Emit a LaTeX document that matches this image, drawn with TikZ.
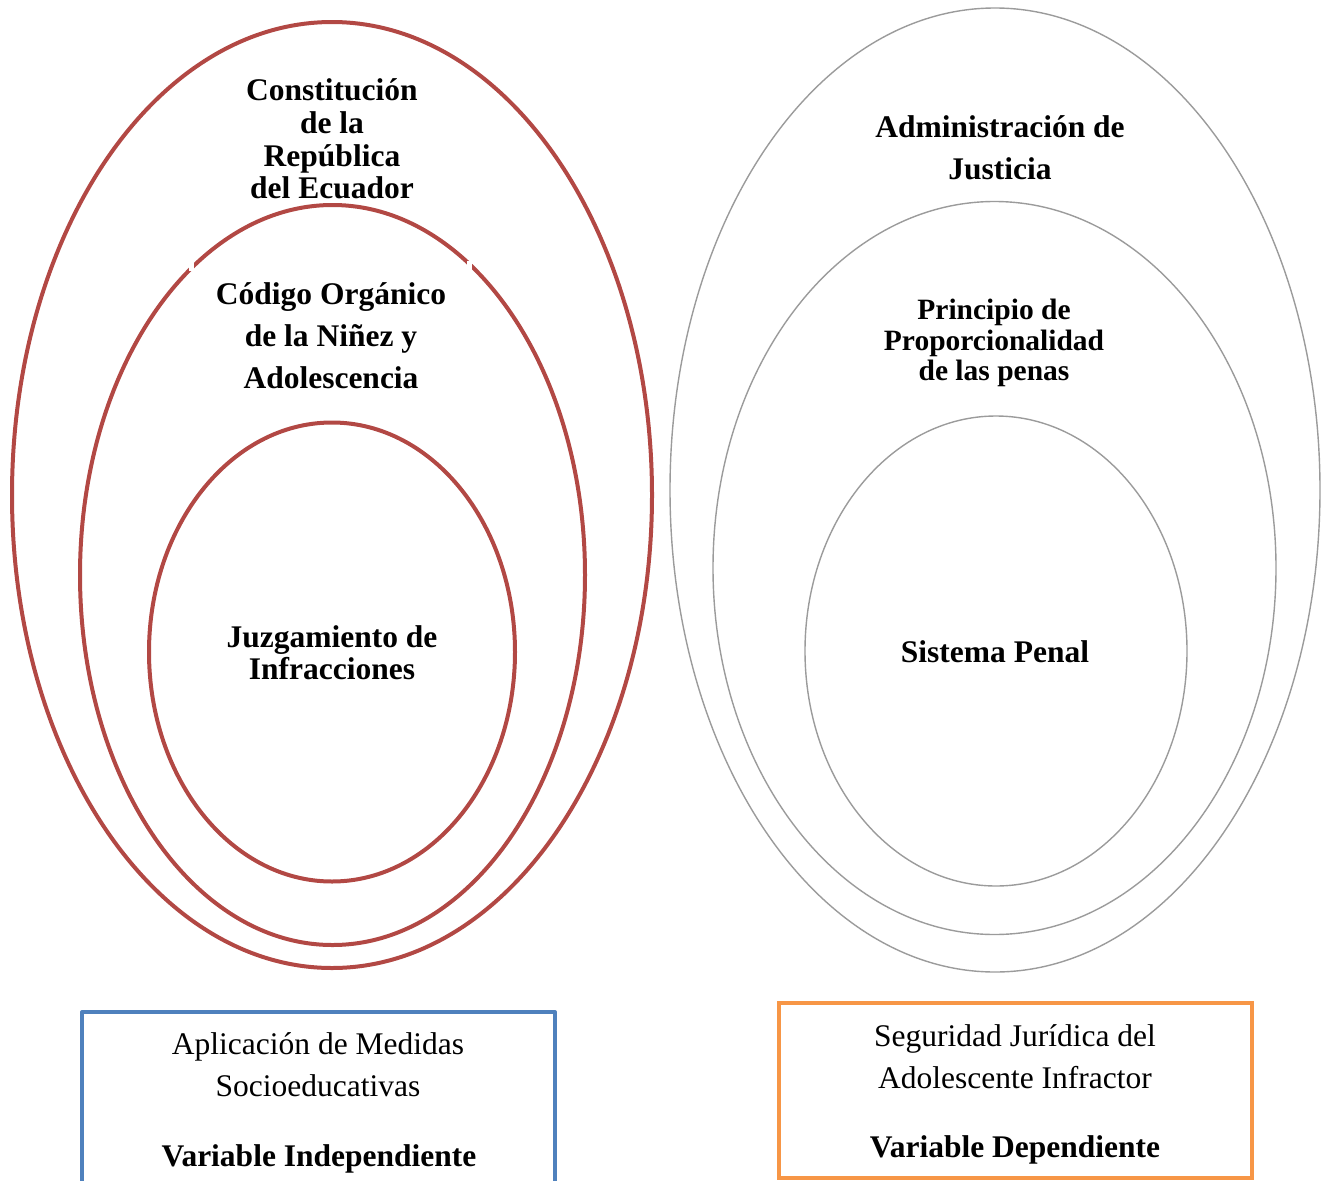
\documentclass[tikz,border=0pt]{standalone}
\usepackage{fontspec}
\setmainfont{Liberation Serif}
\usetikzlibrary{shapes.geometric}
\definecolor{redring}{RGB}{178,72,68}
\definecolor{greyring}{RGB}{155,155,155}
\definecolor{bluebox}{RGB}{79,129,189}
\definecolor{orangebox}{RGB}{247,150,70}
\tikzset{
  redell/.style={ellipse, draw=redring, line width=4pt, inner sep=0pt},
  greyell/.style={ellipse, draw=greyring, line width=1.4pt, inner sep=0pt},
  boldlbl/.style={align=center, inner sep=0pt, font=\fontsize{31.5}{33}\selectfont\bfseries},
  plainlbl/.style={align=center, inner sep=0pt, font=\fontsize{31.5}{42}\selectfont},
}
\begin{document}
\begin{tikzpicture}[x=1pt,y=-1pt]
\useasboundingbox (0,0) rectangle (1331,1181);
\clip (0,0) rectangle (1331,1181);
% left (red) ellipses
\node[redell, minimum width=640, minimum height=946] (c1) at (332,495) {};
\node[redell, minimum width=505, minimum height=740] (c2) at (332.5,575) {};
\node[redell, minimum width=366, minimum height=459] (c3) at (332,652) {};
\fill[white] (189,261) rectangle (194,271);
\fill[white] (467,261) rectangle (472,271);
% right (grey) ellipses
\node[greyell, minimum width=650, minimum height=964] (r1) at (995,490) {};
\node[greyell, minimum width=563, minimum height=733] (r2) at (994.5,568) {};
\node[greyell, minimum width=382, minimum height=470] (r3) at (996,651) {};
% labels left
\node[boldlbl, font=\fontsize{31.5}{32.7}\selectfont\bfseries] (t1) at (332,139) {Constitución\\de la\\República\\del Ecuador};
\node[boldlbl, font=\fontsize{31.5}{42}\selectfont\bfseries] (t2) at (331,336) {Código Orgánico\\de la Niñez y\\Adolescencia};
\node[boldlbl, font=\fontsize{31.5}{32}\selectfont\bfseries] (t3) at (332,653) {Juzgamiento de\\Infracciones};
% labels right
\node[boldlbl, font=\fontsize{31.5}{42}\selectfont\bfseries] (s1) at (1000,148) {Administración de\\Justicia};
\node[boldlbl, font=\fontsize{29.5}{30.5}\selectfont\bfseries] (s2) at (994,343) {Principio de\\Proporcionalidad\\de las penas};
\node[boldlbl] (s3) at (995,652) {Sistema Penal};
% bottom boxes
\coordinate (b1) at (82,1200);
\coordinate (b2) at (82,1012);
\coordinate (b3) at (555,1012);
\coordinate (b4) at (555,1200);
\draw[bluebox, line width=4pt, line join=round] (b1) -- (b2) -- (b3) -- (b4);
\node[plainlbl] (v1) at (318,1065) {Aplicación de Medidas\\Socioeducativas};
\node[boldlbl] (v2) at (319,1159) {Variable Independiente};
\node[draw=orangebox, line width=4pt, minimum width=473, minimum height=175, inner sep=0pt] (ob) at (1015.5,1090.5) {};
\node[plainlbl] (w1) at (1015,1057) {Seguridad Jurídica del\\Adolescente Infractor};
\node[boldlbl] (w2) at (1015,1150) {Variable Dependiente};
\end{tikzpicture}
\end{document}
